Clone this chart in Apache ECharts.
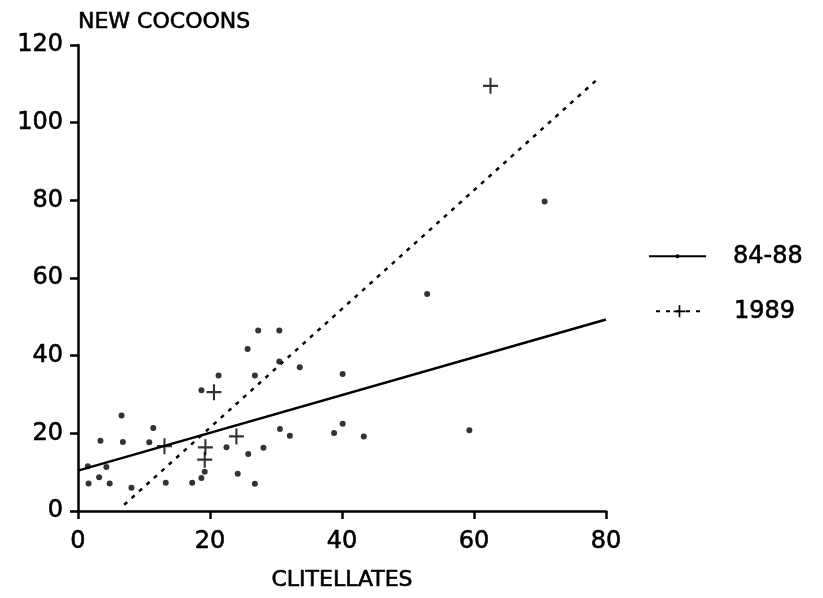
<!DOCTYPE html>
<html><head><meta charset="utf-8">
<script src="https://cdn.jsdelivr.net/npm/echarts@6/dist/echarts.min.js"></script>
<style>html,body{margin:0;padding:0;background:#fff}#c{width:823px;height:598px}</style>
</head><body><div id="c"></div>
<script>
// ---- data ----
const xTitle = 'CLITELLATES';
const yTitle = 'NEW COCOONS';
const seriesNames = ['84-88', '1989'];
const xMin = 0, xMax = 80, xStep = 20;
const yMin = 0, yMax = 120, yStep = 20;

// 84-88 observations (clitellates, new cocoons)
const obs8488 = [
  [27.3,46.5],[30.5,46.5],[25.7,41.7],[21.3,34.9],[26.8,34.9],[30.5,38.5],
  [33.6,37.0],[40.1,35.3],[18.7,31.1],[6.6,24.6],[11.4,21.4],[3.4,18.1],
  [6.8,17.8],[10.8,17.7],[30.6,21.1],[32.1,19.4],[40.1,22.5],[38.8,20.1],
  [43.3,19.2],[59.3,20.8],[22.5,16.4],[28.1,16.3],[25.8,14.7],[19.2,10.1],
  [18.7,8.5],[24.2,9.6],[26.8,7.0],[1.5,11.5],[4.3,11.3],[3.2,8.7],
  [1.6,7.1],[4.8,7.1],[8.1,6.0],[13.3,7.3],[17.3,7.3],[52.9,55.9],[70.7,79.7]
];
// 1989 observations
const obs1989 = [
  [20.6,30.6],[13.1,16.7],[19.3,16.4],[24.0,19.2],[19.2,13.2],[62.5,109.5]
];
// fitted regression lines (end points)
const fit8488 = [[0,10.4],[80,49.3]];
const fit1989 = [[7,1.6],[79.1,111.8]];

// ---- chart ----
const FONT = 'DejaVu Sans';
const crossPath = 'path://M8.6,0H11.4V8.6H20V11.4H11.4V20H8.6V11.4H0V8.6H8.6Z';
const chart = echarts.init(document.getElementById('c'), null, {renderer: 'canvas'});

const txt = {color: '#000', fontFamily: FONT, textBorderColor: '#000', textBorderWidth: 0.6};

const axisCommon = {
  axisLine: {show: true, onZero: false, lineStyle: {color: '#000', width: 2.5}},
  axisTick: {show: true, inside: false, length: 8, lineStyle: {color: '#000', width: 2.5}},
  splitLine: {show: false},
  axisLabel: Object.assign({}, txt, {fontSize: 24}),
  nameTextStyle: Object.assign({}, txt, {fontSize: 22})
};

chart.setOption({
  animation: false,
  backgroundColor: '#fff',
  grid: {left: 78, right: 217, top: 45, bottom: 87, containLabel: false},
  xAxis: Object.assign({}, axisCommon, {
    type: 'value', min: xMin, max: xMax, interval: xStep,
    name: xTitle, nameLocation: 'middle', nameGap: 58,
    axisLabel: Object.assign({}, axisCommon.axisLabel, {margin: 19})
  }),
  yAxis: Object.assign({}, axisCommon, {
    type: 'value', min: yMin, max: yMax, interval: yStep,
    name: yTitle, nameLocation: 'end', nameGap: 23,
    nameTextStyle: Object.assign({}, axisCommon.nameTextStyle, {align: 'left', verticalAlign: 'middle'}),
    axisLabel: Object.assign({}, axisCommon.axisLabel, {margin: 15})
  }),
  legend: [
    {
      data: [seriesNames[0]], left: 648, top: 244, padding: 0, orient: 'vertical',
      itemWidth: 57, itemHeight: 5, selectedMode: false,
      textStyle: Object.assign({}, txt, {fontSize: 24, padding: [0, 0, 0, 22]})
    },
    {
      data: [seriesNames[1]], left: 655, top: 299, padding: 0, orient: 'vertical',
      itemWidth: 47, itemHeight: 15, selectedMode: false,
      textStyle: Object.assign({}, txt, {fontSize: 24, padding: [0, 0, 0, 26]})
    }
  ],
  series: [
    {
      name: seriesNames[0], type: 'line', data: fit8488,
      showSymbol: false, symbol: 'circle', symbolSize: 4,
      itemStyle: {color: '#000'},
      lineStyle: {color: '#000', width: 2.5, type: 'solid'},
      silent: true, z: 2
    },
    {
      name: seriesNames[1], type: 'line', data: fit1989,
      showSymbol: false, symbol: crossPath, symbolSize: 12,
      itemStyle: {color: '#000'},
      lineStyle: {color: '#000', width: 2.5, type: [4, 6]},
      silent: true, z: 2
    },
    {
      name: seriesNames[0], type: 'scatter', data: obs8488,
      symbol: 'circle', symbolSize: 6,
      itemStyle: {color: '#000'}, silent: true, z: 3
    },
    {
      name: seriesNames[1], type: 'scatter', data: obs1989,
      symbol: crossPath, symbolSize: [15, 16],
      itemStyle: {color: '#000'}, silent: true, z: 3
    }
  ]
});
</script>
</body></html>
